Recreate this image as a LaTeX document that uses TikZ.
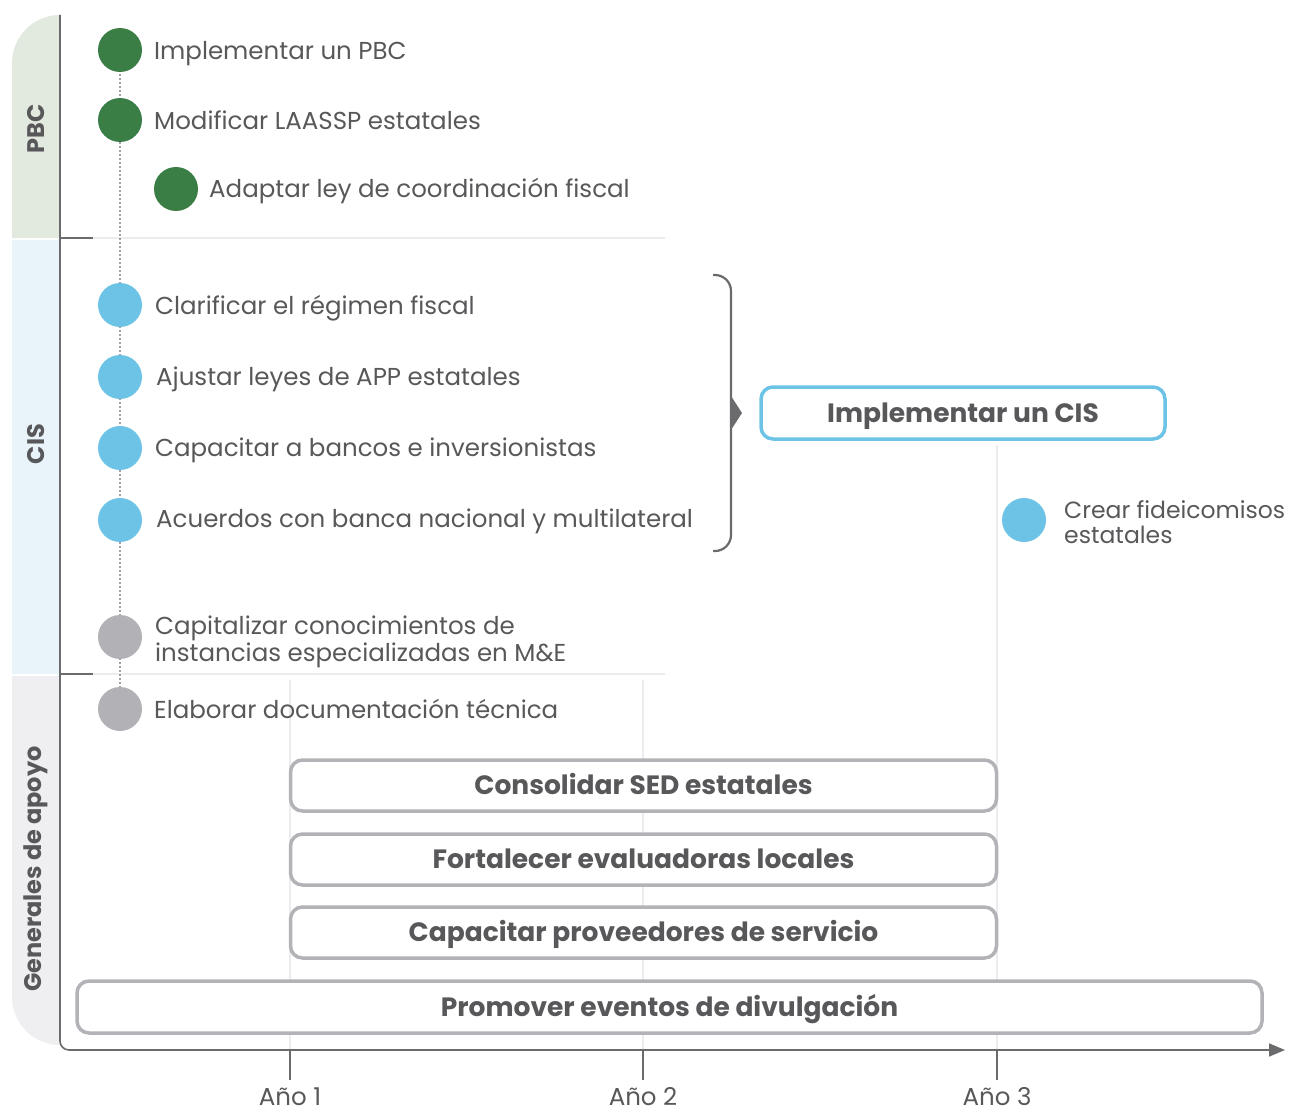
\documentclass[tikz,border=0pt]{standalone}
\usepackage{fontspec}
\setmainfont{Poppins}
\usetikzlibrary{arrows.meta}
\definecolor{txt}{HTML}{58585B}
\definecolor{axisc}{HTML}{6B6B6E}
\definecolor{grn}{HTML}{3A7E45}
\definecolor{blu}{HTML}{6CC3E6}
\definecolor{gry}{HTML}{B2B1B6}
\definecolor{boxc}{HTML}{B3B2B7}
\definecolor{bandp}{HTML}{E2E9DE}
\definecolor{bandc}{HTML}{E8F4FA}
\definecolor{bandg}{HTML}{EFEFF1}
\definecolor{faint}{HTML}{ECECEF}
\tikzset{
  dotg/.style={circle,minimum size=44pt,inner sep=0pt},
  item/.style={anchor=base west,text=txt,font=\fontsize{24.5}{25}\selectfont,align=left,inner sep=0pt},
  bandlabel/.style={rotate=90,text=txt,font=\bfseries\fontsize{24}{26}\selectfont,inner sep=0pt},
  taskbox/.style={draw=boxc,line width=3.5pt,rounded corners=12pt,fill=white,text=txt,
     font=\bfseries\fontsize{26.5}{28}\selectfont,inner sep=0pt,text height=18.5pt,text depth=0pt},
  yearlabel/.style={text=txt,font=\fontsize{24.5}{26}\selectfont,inner sep=0pt,text depth=0pt},
  axisline/.style={draw=axisc,line width=1.6pt},
  faintline/.style={draw=faint,line width=1.5pt},
}
\begin{document}
\begin{tikzpicture}[x=1pt,y=-1pt]
\useasboundingbox (0,0) rectangle (1295,1113);
% bands
\fill[bandp] (12,238) -- (12,63) arc[start angle=180,end angle=270,radius=48] -- (60,15) -- (60,238) -- cycle;
\fill[bandc] (12,240) rectangle (60,674);
\fill[bandg] (12,676) -- (12,997) arc[start angle=180,end angle=90,radius=48] -- (60,1045) -- (60,676) -- cycle;
\node[bandlabel] (lpbc) at (36,129) {PBC};
\node[bandlabel] (lcis) at (36,444) {CIS};
\node[bandlabel] (lgen) at (36,869) {Generales de apoyo};
% faint grid
\draw[faintline] (93,238) -- (665,238);
\draw[faintline] (93,674) -- (665,674);
\draw[faintline] (290,680) -- (290,1050);
\draw[faintline] (643,680) -- (643,1050);
\draw[faintline] (997,445) -- (997,1050);
% separators
\draw[axisline] (60,238) -- (93,238);
\draw[axisline] (60,674) -- (93,674);
% axis
\coordinate (atop) at (60,15);
\coordinate (acorner) at (60,1050);
\coordinate (aend) at (1285,1050);
\draw[axisline,rounded corners=9pt,-{Triangle[length=16pt,width=13pt]}] (atop) -- (acorner) -- (aend);
% ticks
\foreach \x/\n [count=\i] in {290/1,643/2,997/3}{
  \coordinate (t\i) at (\x,1050);
  \coordinate (tb\i) at (\x,1080);
  \draw[axisline] (t\i) -- (tb\i);
  \node[yearlabel,anchor=base] (y\i) at (\x,1105) {Año \n};
}
% circles
\coordinate (dtop) at (120,50);
\coordinate (dbot) at (120,709);
\draw[gry!90!black,line width=1.6pt,dash pattern=on 2pt off 2pt] (dtop) -- (dbot);
\node[dotg,fill=grn] (c1) at (120,50) {};
\node[dotg,fill=grn] (c2) at (120,120) {};
\node[dotg,fill=grn] (c3) at (176,189) {};
\node[dotg,fill=blu] (c4) at (120,305) {};
\node[dotg,fill=blu] (c5) at (120,377) {};
\node[dotg,fill=blu] (c6) at (120,448) {};
\node[dotg,fill=blu] (c7) at (120,520) {};
\node[dotg,fill=gry] (c8) at (120,637) {};
\node[dotg,fill=gry] (c9) at (120,709) {};
\node[dotg,fill=blu] (c10) at (1024,520) {};
% texts
\node[item] (s1) at (154,60) {Implementar un PBC};
\node[item] (s2) at (154,130) {Modificar LAASSP estatales};
\node[item] (s3) at (209,197) {Adaptar ley de coordinación fiscal};
\node[item] (s4) at (155,314) {Clarificar el régimen fiscal};
\node[item] (s5) at (156,385) {Ajustar leyes de APP estatales};
\node[item] (s6) at (155,456) {Capacitar a bancos e inversionistas};
\node[item] (s7) at (156,527) {Acuerdos con banca nacional y multilateral};
\node[item] (s8) at (155,661) {Capitalizar conocimientos de\\instancias especializadas en M\&E};
\node[item] (s9) at (154,718) {Elaborar documentación técnica};
\node[item,font=\fontsize{23.5}{25}\selectfont] (s10) at (1064,543) {Crear fideicomisos\\estatales};
% bracket
\coordinate (br1) at (713,275);
\coordinate (br2) at (713,551);
\draw[axisline,line width=2.2pt,rounded corners=16pt] (br1) -- (731,275) -- (731,551) -- (br2);
\fill[axisc] (731,396) -- (742,413) -- (731,430) -- cycle;
% boxes
\node[taskbox,draw=blu,minimum width=404pt,minimum height=52pt] (bcis) at (963,413) {Implementar un CIS};
\node[taskbox,minimum width=706pt,minimum height=51pt] (b1) at (643.5,785.5) {Consolidar SED estatales};
\node[taskbox,minimum width=706pt,minimum height=51pt] (b2) at (643.5,859.5) {Fortalecer evaluadoras locales};
\node[taskbox,minimum width=706pt,minimum height=51pt] (b3) at (643.5,932.5) {Capacitar proveedores de servicio};
\node[taskbox,minimum width=1185pt,minimum height=52pt] (b4) at (669.5,1007) {Promover eventos de divulgación};
\end{tikzpicture}
\end{document}
